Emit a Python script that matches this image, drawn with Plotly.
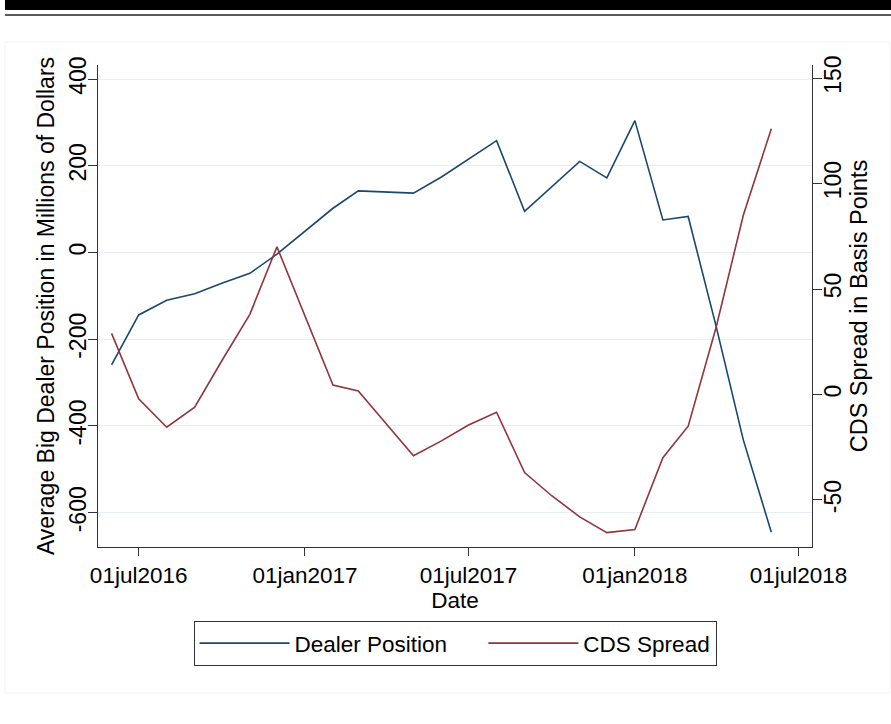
import pandas as pd
import plotly.graph_objects as go

# monthly observations, Jun 2016 - Jun 2018
months = pd.date_range("2016-06-01", periods=25, freq="MS")
dealer_position = [-259, -144, -110, -95, -71, -48, -4, 48, 102, 142, 139, 137, 174,
                   215, 258, 95, 152, 210, 172, 304, 75, 83, -171, -432, -645]
cds_spread = [29, -2, -15.5, -6, 16, 38, 70, 37, 4.5, 1.7, -14, -29, -22,
              -14.5, -8.4, -37, -48, -58, -65.5, -64, -30, -15, 32, 85, 126]

x_tickvals = ["2016-07-01", "2017-01-01", "2017-07-01", "2018-01-01", "2018-07-01"]
x_ticktext = ["01jul2016", "01jan2017", "01jul2017", "01jan2018", "01jul2018"]
left_ticks = [-600, -400, -200, 0, 200, 400]
right_ticks = [-50, 0, 50, 100, 150]

NAVY = "#1a476f"
MAROON = "#90353b"
AXIS = "#333333"
GRID = "#e6eef2"
FONT = "Liberation Sans, Arial, sans-serif"
PAD = "\u00a0" * 5  # widen the gap between the two legend keys

fig = go.Figure()
fig.add_trace(go.Scatter(
    x=months, y=dealer_position, name="Dealer Position" + PAD, mode="lines",
    line=dict(color=NAVY, width=1.6),
))
fig.add_trace(go.Scatter(
    x=months, y=cds_spread, name="CDS Spread", mode="lines", yaxis="y2",
    line=dict(color=MAROON, width=1.6),
))

# page decoration: heavy rule, thin rule and the faint graph-region frame
fig.add_shape(type="rect", xref="paper", yref="paper",
              x0=-0.1303, x1=1.111, y0=1.1141, y1=1.136,
              fillcolor="black", line=dict(width=0), layer="below")
fig.add_shape(type="line", xref="paper", yref="paper",
              x0=-0.1303, x1=1.111, y0=1.1037, y1=1.1037,
              line=dict(color="#222222", width=1.5))
fig.add_shape(type="rect", xref="paper", yref="paper",
              x0=-0.1303, x1=1.109, y0=-0.3029, y1=1.0477,
              line=dict(color="#f3f3f3", width=1), layer="below")

fig.update_layout(
    width=891, height=724,
    margin=dict(l=98, r=79, t=65, b=177),
    paper_bgcolor="white", plot_bgcolor="white",
    font=dict(family=FONT, size=22, color="black"),
    showlegend=True,
    legend=dict(
        orientation="h", x=0.5, xanchor="center", y=-0.1535, yanchor="top",
        bordercolor=AXIS, borderwidth=1, font=dict(size=22.5),
        itemwidth=90,
    ),
    xaxis=dict(
        type="date", range=["2016-05-17", "2018-07-16"],
        tickvals=x_tickvals, ticktext=x_ticktext,
        ticks="outside", ticklen=8, tickcolor=AXIS, tickwidth=1,
        showline=True, linecolor=AXIS, linewidth=1.3,
        showgrid=False, zeroline=False,
        title=dict(text="Date", standoff=2, font=dict(size=22.5)),
        tickfont=dict(size=22.5),
    ),
    yaxis=dict(
        range=[-679, 432.3], tickvals=left_ticks,
        ticktext=[str(v) for v in left_ticks], tickangle=-90,
        ticks="outside", ticklen=9, tickcolor=AXIS, tickwidth=1,
        ticklabelstandoff=-7,
        showline=True, linecolor=AXIS, linewidth=1.3,
        showgrid=True, gridcolor=GRID, gridwidth=1.3, zeroline=False,
        title=dict(text="Average Big Dealer Position in Millions of Dollars",
                   standoff=3, font=dict(size=23)),
        tickfont=dict(size=23),
    ),
    yaxis2=dict(
        range=[-72.3, 156.2], tickvals=right_ticks,
        ticktext=[str(v) for v in right_ticks], tickangle=-90,
        overlaying="y", side="right",
        ticks="outside", ticklen=9, tickcolor=AXIS, tickwidth=1,
        ticklabelstandoff=-9,
        showline=True, linecolor=AXIS, linewidth=1.3,
        showgrid=False, zeroline=False,
        title=dict(text="CDS Spread in Basis Points", standoff=0, font=dict(size=23.5)),
        tickfont=dict(size=23),
    ),
)

fig.write_html("out.html", config={"displayModeBar": False},
               post_script="document.body.style.margin='0';")
